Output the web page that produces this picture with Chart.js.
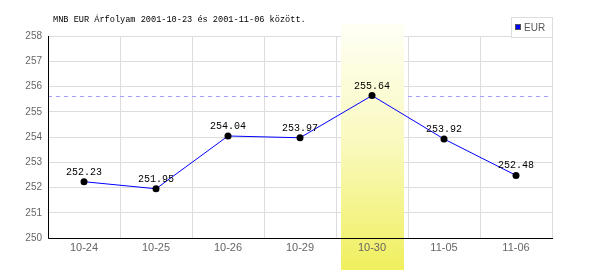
<!DOCTYPE html>
<html><head><meta charset="utf-8">
<script src="https://cdn.jsdelivr.net/npm/chart.js@4/dist/chart.umd.min.js"></script>
<style>html,body{margin:0;padding:0;background:#fff}#w{width:600px;height:270px;position:relative}</style>
</head><body><div id="w"><canvas id="c" width="600" height="270"></canvas></div>
<script>
const categories = ["10-24","10-25","10-26","10-29","10-30","11-05","11-06"];
const eurValues = [252.23, 251.95, 254.04, 253.97, 255.64, 253.92, 252.48];
const seriesName = "EUR";
const titleText = "MNB EUR Árfolyam 2001-10-23 és 2001-11-06 között.";
const highlightIndex = 4;
const refLevel = 255.64;
const yMin = 250, yMax = 258;

const tickFont = '10px "Liberation Sans", Arial, sans-serif';
const xTickFont = '11px "Liberation Sans", Arial, sans-serif';

const overlay = {
  id: 'overlay',
  beforeDatasetsDraw(chart) {
    const ctx = chart.ctx, ca = chart.chartArea;
    const xs = chart.scales.x, ys = chart.scales.y;
    ctx.save();
    // dashed reference line
    const yr = Math.round(ys.getPixelForValue(refLevel)) + 0.5;
    ctx.strokeStyle = '#a0a0ff'; ctx.lineWidth = 1; ctx.setLineDash([4,4]);
    ctx.beginPath(); ctx.moveTo(ca.left, yr); ctx.lineTo(ca.right, yr); ctx.stroke();
    ctx.setLineDash([]);
    // highlight band
    const cx = xs.getPixelForValue(highlightIndex);
    const g = ctx.createLinearGradient(0, 24, 0, 270);
    g.addColorStop(0, '#fffff6');
    g.addColorStop(0.5, '#f9f9bc');
    g.addColorStop(1, '#f0ef5e');
    ctx.fillStyle = g;
    ctx.fillRect(Math.round(cx - 31), 24, 63, 246);
    // axes
    ctx.strokeStyle = '#000'; ctx.lineWidth = 1;
    ctx.beginPath();
    ctx.moveTo(ca.left + 0.5, ca.top); ctx.lineTo(ca.left + 0.5, ca.bottom + 0.5);
    ctx.lineTo(ca.right + 1, ca.bottom + 0.5);
    ctx.stroke();
    // x tick labels (drawn above band)
    ctx.fillStyle = '#666';
    ctx.font = xTickFont;
    ctx.textAlign = 'center'; ctx.textBaseline = 'middle';
    categories.forEach((c, i) => {
      ctx.fillText(c, xs.getPixelForValue(i), ca.bottom + 10);
    });
    ctx.restore();
  },
  afterDatasetsDraw(chart) {
    const ctx = chart.ctx;
    const meta = chart.getDatasetMeta(0);
    ctx.save();
    ctx.fillStyle = '#000';
    ctx.font = '10px "Liberation Mono", "DejaVu Sans Mono", monospace';
    ctx.textAlign = 'center'; ctx.textBaseline = 'alphabetic';
    meta.data.forEach((p, i) => {
      ctx.fillText(eurValues[i].toFixed(2), p.x, p.y - 7);
    });
    // title
    ctx.font = '8.6px "Liberation Mono", "DejaVu Sans Mono", monospace';
    ctx.textAlign = 'left'; ctx.textBaseline = 'middle';
    ctx.fillText(titleText, 53, 20);
    // legend
    ctx.fillStyle = '#fff';
    ctx.fillRect(511, 17, 41, 20);
    ctx.strokeStyle = '#dddddd';
    ctx.strokeRect(511.5, 17.5, 41, 20);
    ctx.fillStyle = '#0000ff';
    ctx.fillRect(515, 24, 6, 6);
    ctx.strokeStyle = '#555';
    ctx.strokeRect(515.5, 24.5, 5, 5);
    ctx.fillStyle = '#555';
    ctx.font = tickFont;
    ctx.fillText(seriesName, 524, 28);
    ctx.restore();
  }
};

new Chart(document.getElementById('c'), {
  type: 'line',
  data: {
    labels: categories,
    datasets: [{
      label: seriesName,
      data: eurValues,
      borderColor: '#0000ff',
      borderWidth: 1,
      pointRadius: 3.5,
      pointBackgroundColor: '#000',
      pointBorderColor: '#000',
      pointBorderWidth: 0,
      tension: 0,
      fill: false
    }]
  },
  options: {
    responsive: false,
    animation: false,
    devicePixelRatio: 1,
    layout: { padding: { top: 36, right: 48, left: 0, bottom: 0 } },
    plugins: { legend: { display: false }, tooltip: { enabled: false }, title: { display: false } },
    scales: {
      x: {
        type: 'category',
        offset: true,
        grid: { offset: true, color: '#dddddd', drawTicks: false },
        border: { display: false },
        ticks: { color: 'rgba(0,0,0,0)', font: { family: '"Liberation Sans", Arial, sans-serif', size: 10 }, padding: 5, maxRotation: 0 },
        afterFit(s) { s.height = 32; }
      },
      y: {
        min: yMin, max: yMax,
        grid: { color: '#dddddd', drawTicks: false },
        border: { display: false },
        ticks: { stepSize: 1, color: '#666', font: { family: '"Liberation Sans", Arial, sans-serif', size: 10 }, padding: 6 },
        afterFit(s) { s.width = 48; }
      }
    }
  },
  plugins: [overlay]
});
</script></body></html>
